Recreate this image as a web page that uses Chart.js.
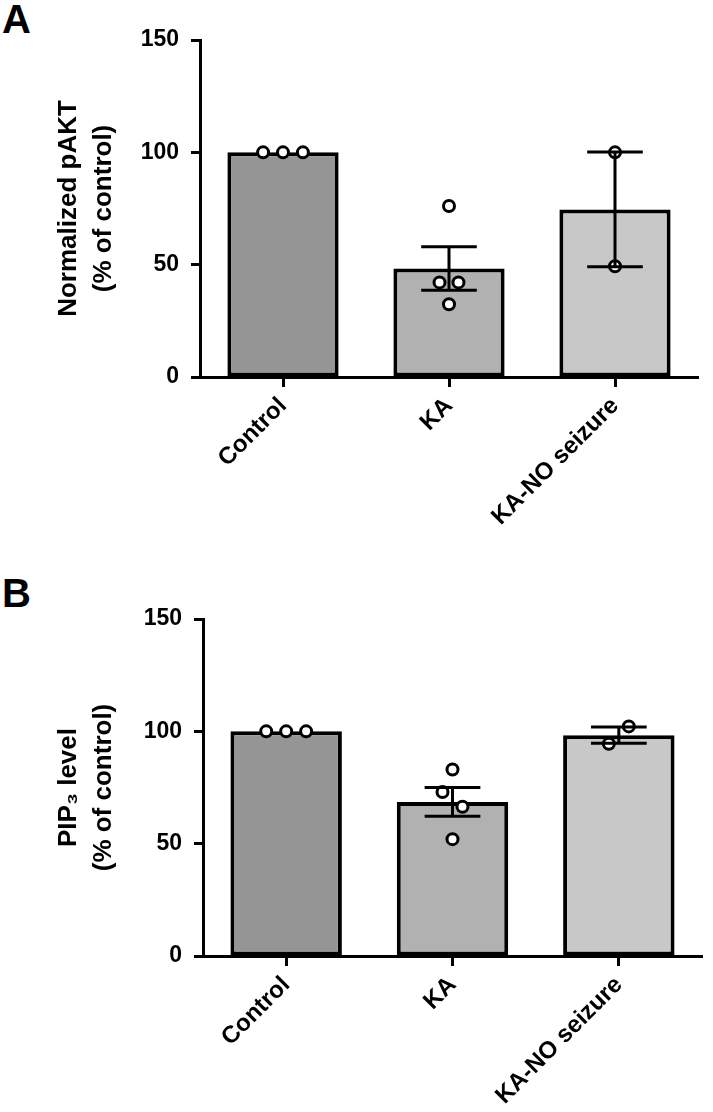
<!DOCTYPE html>
<html>
<head>
<meta charset="utf-8">
<script src="https://cdn.jsdelivr.net/npm/chart.js@4"></script>
<style>
  body { margin: 0; background: #fff; width: 713px; height: 1112px; position: relative; overflow: hidden; }
  .panel-label { position: absolute; left: 2px; font: bold 40px "Liberation Sans", Arial, sans-serif; line-height: 40px; color: #000; }
  canvas { position: absolute; left: 0; }
</style>
</head>
<body>
<div class="panel-label" style="top:-1px">A</div>
<canvas id="chart-a" width="713" height="560" style="top:0"></canvas>
<div class="panel-label" style="top:573px">B</div>
<canvas id="chart-b" width="713" height="533" style="top:579px"></canvas>
<script>
// Data
const categories = ["Control", "KA", "KA-NO seizure"];
const barColors = ["#959595", "#b1b1b1", "#c8c8c8"];
const yTicks = [0, 50, 100, 150];

// Panel A - normalized pAKT
const pAktMeans = [100, 48.3, 74.6];
const pAktSem = [0, 9.7, 25.5];
const pAktPoints = [[100, 100, 100], [76.1, 42.1, 42.1, 32.4], [100, 49.3]];
const pAktDodge = [[-0.12, 0, 0.12], [0, -0.057, 0.057, 0], [0, 0]];

// Panel B - PIP3 level
const pip3Means = [100, 68.6, 98.3];
const pip3Sem = [0, 6.4, 3.6];
const pip3Points = [[100, 100, 100], [83, 73, 66.4, 52], [94.5, 102.2]];
const pip3Dodge = [[-0.12, 0, 0.12], [0, -0.06, 0.06, 0], [-0.06, 0.06]];

const FONT = "'Liberation Sans', Arial, sans-serif";
Chart.defaults.font.family = FONT;
Chart.defaults.color = "#000";

// mean +/- SEM whiskers drawn on top of bars and dots
function errorBarsPlugin(means, sem) {
  return {
    id: "errorBars",
    afterDatasetsDraw(chart) {
      const ctx = chart.ctx;
      const yScale = chart.scales.y;
      const bars = chart.getDatasetMeta(0).data;
      ctx.save();
      ctx.strokeStyle = "#000";
      ctx.lineWidth = 3;
      bars.forEach((bar, i) => {
        if (!sem[i]) return;
        const half = bar.width * 0.25;
        const top = yScale.getPixelForValue(means[i] + sem[i]);
        const bottom = yScale.getPixelForValue(means[i] - sem[i]);
        ctx.beginPath();
        ctx.moveTo(bar.x, top);
        ctx.lineTo(bar.x, bottom);
        ctx.moveTo(bar.x - half, top);
        ctx.lineTo(bar.x + half, top);
        ctx.moveTo(bar.x - half, bottom);
        ctx.lineTo(bar.x + half, bottom);
        ctx.stroke();
      });
      ctx.restore();
    },
  };
}

function makePanel(canvasId, means, sem, points, dodge, title, axisWidth, rightPad) {
  const canvas = document.getElementById(canvasId);
  const dots = [];
  points.forEach((group, i) => {
    group.forEach((v, j) => dots.push({ x: i + dodge[i][j], y: v }));
  });

  new Chart(canvas.getContext("2d"), {
    type: "bar",
    data: {
      labels: categories,
      datasets: [
        {
          data: means,
          xAxisID: "x",
          backgroundColor: barColors,
          borderColor: "#000",
          borderWidth: 4,
          borderSkipped: false,
          grouped: false,
          barPercentage: 0.67,
          categoryPercentage: 1,
          order: 2,
        },
        {
          type: "scatter",
          data: dots,
          xAxisID: "xp",
          pointRadius: 5.5,
          pointBorderWidth: 3,
          pointBackgroundColor: "#fff",
          pointBorderColor: "#000",
          order: 1,
        },
      ],
    },
    options: {
      responsive: false,
      devicePixelRatio: 1,
      animation: false,
      layout: { padding: { top: 40, right: rightPad, left: 0, bottom: 0 } },
      plugins: { legend: { display: false }, tooltip: { enabled: false } },
      scales: {
        x: {
          type: "category",
          offset: true,
          grid: {
            display: true,
            offset: false,
            drawOnChartArea: false,
            drawTicks: true,
            tickLength: 10,
            tickWidth: 3,
            tickColor: "#000",
          },
          border: { display: true, width: 3, color: "#000" },
          ticks: {
            minRotation: 45,
            maxRotation: 45,
            padding: 5,
            font: { size: 24, weight: "bold" },
          },
          afterFit(scale) {
            scale.height = canvas.height - 377;
          },
        },
        xp: {
          type: "linear",
          display: false,
          offset: false,
          bounds: "data",
          min: -0.5,
          max: 2.5,
          grid: { offset: false },
        },
        y: {
          min: 0,
          max: 150,
          afterBuildTicks(scale) {
            scale.ticks = yTicks.map((v) => ({ value: v }));
          },
          grid: {
            display: true,
            drawOnChartArea: false,
            drawTicks: true,
            tickLength: 9,
            tickWidth: 3,
            tickColor: "#000",
          },
          border: { display: true, width: 3, color: "#000" },
          ticks: {
            padding: 12,
            font: { size: 23, weight: "bold" },
          },
          title: {
            display: true,
            text: title,
            font: { size: 26, weight: "bold", lineHeight: 1.35 },
            padding: { top: 51, bottom: 0 },
          },
          afterFit(scale) {
            scale.width = axisWidth;
          },
        },
      },
    },
    plugins: [errorBarsPlugin(means, sem)],
  });
}

makePanel("chart-a", pAktMeans, pAktSem, pAktPoints, pAktDodge,
  ["Normalized pAKT", "(% of control)"], 200, 15);
makePanel("chart-b", pip3Means, pip3Sem, pip3Points, pip3Dodge,
  ["PIP\u2083 level", "(% of control)"], 203, 11);
</script>
</body>
</html>
